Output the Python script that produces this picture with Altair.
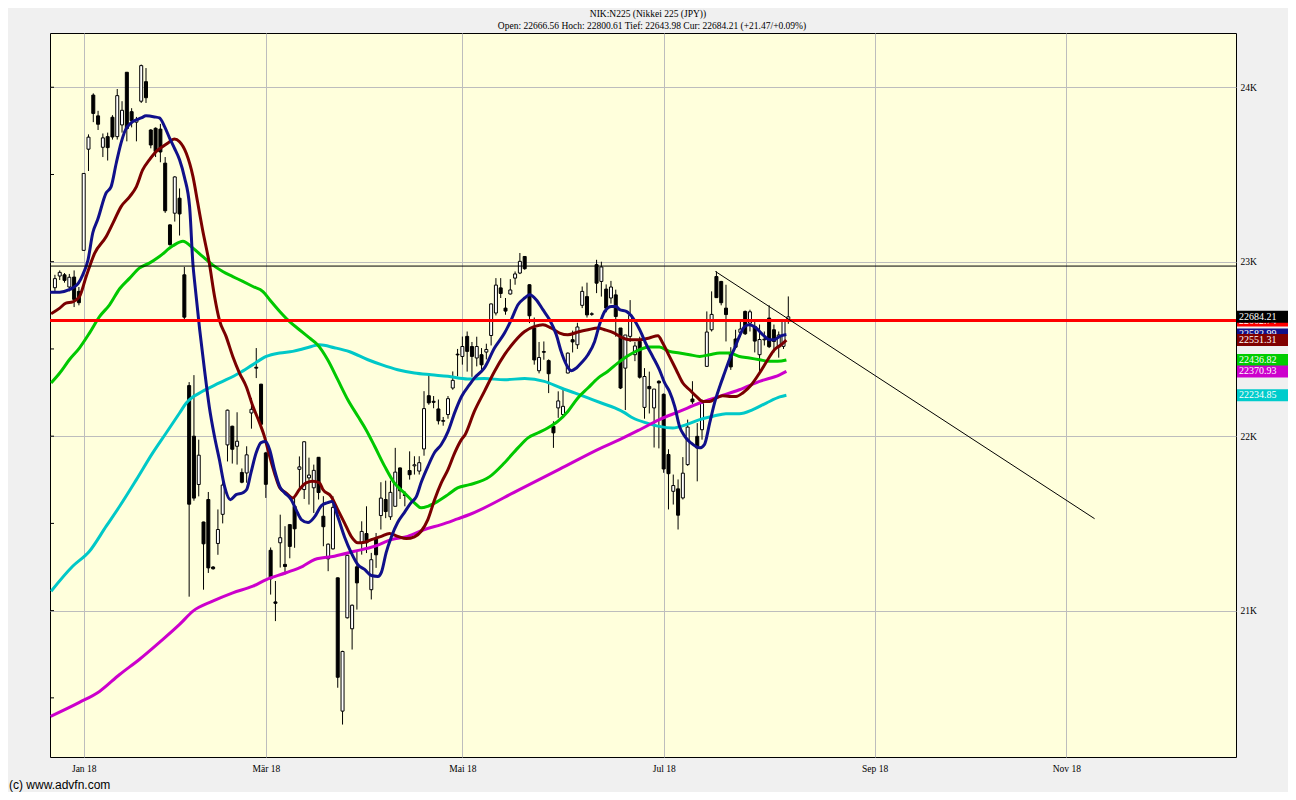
import altair as alt
import pandas as pd

# ---------------- text ----------------
title_line1 = "NIK:N225 (Nikkei 225 (JPY))"
title_line2 = "Open: 22666.56 Hoch: 22800.61 Tief: 22643.98 Cur: 22684.21 (+21.47/+0.09%)"
footer_text = "(c) www.advfn.com"

# ---------------- candles (trading-day index, 0 = first session of Jan 2018) ----------------
day_index = list(range(-6, 148))
opens = [22851, 22918, 22925, 22855, 22912, 22830,
         23065, 23645, 23955, 23836, 23656, 23717, 23828, 23717, 23784, 24086,
         23860, 23800, 23920, 24032, 23755, 23765, 23760, 23565, 23211, 23278,
         23364, 22925, 22290, 22000, 21723, 21508, 21637, 21250, 21385, 21552,
         21950, 22057, 21942, 21792, 21789, 22133, 22395, 22298, 21904, 21346,
         21050, 21389, 21265, 21493, 21598, 21810, 21694, 21761, 21704, 21879,
         21541, 21297, 21354, 21188, 20424, 20959, 20896, 21251, 21388, 21442,
         21120, 21415, 21545, 21637, 21538, 21598, 21818, 21665, 21803, 21830,
         21800, 21927, 22232, 22200, 22156, 22085, 22124, 22276, 22470, 22457,
         22572, 22514, 22448, 22467, 22482, 22577, 22706, 22850, 22734, 22815,
         22906, 22935, 23030, 22868, 22620, 22375, 22485, 22433, 22056, 22162,
         22124, 22362, 22553, 22524, 22750, 22800, 22698, 22983, 22887, 22843,
         22792, 22810, 22620, 22390, 22572, 22467, 22543, 22165, 22285, 22162,
         22315, 22240, 21895, 21684, 21698, 21646, 21837, 22213, 21999, 22037,
         22400, 22610, 22915, 22887, 22734, 22480, 22557, 22595, 22715, 22648,
         22629, 22467, 22552, 22677, 22610, 22511, 22515, 22667]
highs = [22925, 22950, 22935, 22930, 22950, 22855,
         23506, 23730, 23965, 23865, 23735, 23740, 23840, 23990, 23920, 24086,
         23880, 23830, 24130, 24110, 23760, 23770, 23790, 23600, 23215, 23490,
         23420, 22970, 22310, 22350, 21980, 21510, 21680, 21255, 21580, 21760,
         22152, 22060, 22137, 21815, 21942, 22219, 22505, 22300, 21910, 21362,
         21170, 21550, 21484, 21495, 21655, 21884, 21970, 21877, 21837, 21880,
         21656, 21385, 21656, 21190, 20770, 21320, 21035, 21341, 21512, 21598,
         21331, 21445, 21736, 21745, 21745, 21933, 21820, 21684, 21913, 21885,
         21885, 22258, 22362, 22230, 22210, 22110, 22230, 22371, 22500, 22571,
         22600, 22540, 22570, 22505, 22530, 22760, 22906, 22906, 22792, 22900,
         22944, 23050, 23030, 22870, 22680, 22540, 22543, 22440, 22085, 22257,
         22270, 22480, 22605, 22650, 22858, 22880, 22710, 23011, 23000, 22870,
         22890, 22840, 22620, 22580, 22780, 22540, 22570, 22390, 22370, 22250,
         22320, 22245, 21925, 21780, 21752, 21880, 22095, 22315, 22075, 22210,
         22715, 22830, 22945, 22890, 22868, 22510, 22610, 22660, 22720, 22725,
         22660, 22640, 22600, 22750, 22640, 22600, 22670, 22801]
lows = [22830, 22895, 22880, 22830, 22740, 22750,
        23065, 23520, 23800, 23755, 23600, 23580, 23700, 23700, 23740, 23690,
        23770, 23690, 23910, 23910, 23650, 23600, 23570, 23280, 23092, 23230,
        23150, 22660, 21080, 21630, 21655, 21120, 21216, 21235, 21320, 21500,
        21855, 21843, 21837, 21730, 21733, 22043, 22333, 22060, 21646, 21092,
        20940, 21247, 21207, 21300, 21360, 21690, 21640, 21608, 21560, 21637,
        21369, 21226, 21350, 20558, 20347, 20955, 20777, 21006, 21321, 21330,
        21064, 21245, 21465, 21530, 21520, 21598, 21640, 21598, 21751, 21780,
        21780, 21888, 22180, 22160, 22067, 22060, 22100, 22266, 22343, 22410,
        22370, 22340, 22400, 22371, 22440, 22520, 22692, 22792, 22696, 22812,
        22868, 22929, 22954, 22648, 22410, 22360, 22438, 22247, 21933, 22105,
        22105, 22360, 22480, 22500, 22734, 22680, 22690, 22820, 22800, 22710,
        22760, 22570, 22270, 22150, 22540, 22430, 22330, 22100, 22130, 21935,
        21930, 21790, 21580, 21608, 21465, 21637, 21830, 22185, 21741, 21980,
        22400, 22600, 22792, 22750, 22543, 22380, 22505, 22570, 22580, 22600,
        22480, 22353, 22520, 22505, 22480, 22450, 22500, 22644]
closes = [22903, 22939, 22893, 22911, 22784, 22765,
          23506, 23714, 23850, 23788, 23710, 23654, 23715, 23952, 23868, 23763,
          23808, 23816, 24124, 23940, 23669, 23632, 23629, 23292, 23098, 23486,
          23274, 22682, 21610, 21645, 21891, 21383, 21245, 21240, 21465, 21720,
          22149, 21925, 21971, 21736, 21893, 22154, 22390, 22068, 21724, 21182,
          21042, 21418, 21253, 21368, 21469, 21824, 21968, 21777, 21804, 21677,
          21481, 21381, 21592, 20618, 20766, 21317, 21031, 21159, 21454, 21389,
          21292, 21320, 21645, 21568, 21678, 21794, 21687, 21660, 21779, 21836,
          21848, 22158, 22191, 22194, 22088, 22090, 22215, 22320, 22466, 22514,
          22486, 22457, 22514, 22409, 22497, 22758, 22866, 22818, 22717, 22838,
          22930, 23002, 22960, 22690, 22437, 22451, 22481, 22358, 22019, 22202,
          22171, 22476, 22540, 22626, 22830, 22695, 22702, 22877, 22970, 22734,
          22855, 22686, 22276, 22580, 22693, 22517, 22338, 22342, 22272, 22270,
          22305, 21812, 21785, 21717, 21547, 21788, 22052, 22197, 21932, 22188,
          22597, 22698, 22794, 22765, 22697, 22397, 22510, 22614, 22587, 22713,
          22545, 22554, 22556, 22513, 22543, 22580, 22663, 22684]

# ---------------- moving averages ----------------
navy_idx = [-7, -5, -3, -2.3, -1.1, -0.2, 0.9, 1.9, 2.9, 4.7, 5.7, 6.8, 7.8, 8.7, 9.9, 11, 12, 13,
            14.8, 15.8, 16.9, 17.9, 18.9, 20, 21, 22.1, 22.8, 23.1, 24.2, 25.2, 26.2, 27.3, 28.3,
            29.4, 30.6, 31.8, 33.2, 34, 34.9, 36, 37, 37.9, 38.8, 39.8, 40.9, 41.9, 43.3, 44.3,
            45.4, 46.8, 48.2, 49.6, 50.9, 51.8, 53, 54.4, 55.8, 57.2, 58.6, 60, 61.4, 62.1, 63.1,
            64.2, 65.5, 66.9, 68.3, 69.4, 70.4, 71.8, 73.2, 74.6, 76, 77.4, 78.8, 80.5, 81.5, 83.6,
            85.7, 87.8, 89.2, 90.6, 92, 93, 94.4, 95.8, 97.2, 98.6, 99.6, 100.7, 101.7, 102.8,
            103.8, 105.2, 106.6, 107.6, 108.7, 110.1, 111.1, 111.8, 113.2, 114.6, 116, 117.4,
            118.7, 120.1, 121.2, 122.2, 123.3, 124.3, 125.4, 126.7, 128.5, 129.5, 130.6, 131.6,
            132.7, 133.7, 134.7, 135.8, 136.8, 137.9, 138.9, 140.3, 141.7, 143.1, 144.1, 145.2,
            146.6]
navy_val = [22825, 22825, 22840, 22850, 22877, 22925, 23010, 23166, 23240, 23395, 23429, 23566,
            23681, 23755, 23796, 23813, 23824, 23836, 23830, 23824, 23773, 23710, 23652, 23584,
            23486, 23314, 22982, 22896, 22610, 22381, 22169, 21997, 21866, 21711, 21636, 21665,
            21676, 21694, 21791, 21906, 21963, 21969, 21923, 21808, 21711, 21676, 21636, 21579,
            21522, 21505, 21539, 21602, 21619, 21625, 21539, 21424, 21333, 21264, 21236, 21201,
            21196, 21219, 21333, 21424, 21505, 21562, 21619, 21653, 21734, 21826, 21906, 21952,
            22026, 22135, 22226, 22295, 22333, 22391, 22505, 22591, 22667, 22753, 22792, 22810,
            22782, 22725, 22667, 22581, 22486, 22410, 22375, 22391, 22419, 22467, 22543, 22639,
            22715, 22744, 22744, 22725, 22715, 22677, 22610, 22524, 22457, 22381, 22305, 22257,
            22171, 22056, 21999, 21961, 21933, 21952, 22076, 22190, 22285, 22362, 22438, 22505,
            22572, 22629, 22639, 22620, 22581, 22553, 22553, 22572, 22583]

maroon_idx = [-6.8, -5, -3.7, -2.3, -0.9, 0.5, 2.3, 4.7, 6.1, 7.8, 9.6, 11, 12.3, 13.7, 15.1,
              16.5, 17.5, 18.9, 20, 21.4, 22.8, 23.8, 24.8, 26.2, 27.3, 28.3, 29.7, 31.1, 32.5,
              33.9, 35.3, 36.7, 37.7, 38.8, 39.8, 40.9, 42.2, 43.6, 45, 46.4, 47.8, 49.2, 49.9,
              51.6, 53, 54.4, 55.8, 57.2, 58.6, 60, 62.1, 63.8, 65.5, 67.3, 69, 70.4, 71.8, 73.2,
              74.6, 76, 77.4, 78.8, 79.6, 81.5, 83.6, 85.7, 87.8, 89.9, 92, 94.1, 95.8, 97.5,
              99.3, 101, 103.1, 105.2, 107.3, 108.7, 110.7, 112.3, 113.9, 116, 118, 119.8, 120.8,
              122.2, 123.6, 125, 126.4, 127.8, 129.2, 130.6, 132, 133.3, 134.7, 136.1, 137.5,
              139.3, 141, 142.7, 144.1, 145.5, 146.6]
maroon_val = [22702, 22734, 22763, 22770, 22799, 22914, 23049, 23144, 23221, 23316, 23373, 23431,
              23526, 23584, 23631, 23660, 23679, 23704, 23688, 23622, 23488, 23336, 23183, 22992,
              22801, 22667, 22572, 22457, 22362, 22285, 22171, 22076, 21999, 21884, 21789, 21704,
              21675, 21646, 21694, 21732, 21741, 21732, 21694, 21655, 21579, 21503, 21426, 21389,
              21392, 21407, 21426, 21442, 21426, 21413, 21423, 21455, 21522, 21636, 21732, 21808,
              21904, 21980, 22010, 22142, 22257, 22371, 22467, 22543, 22600, 22629, 22639, 22620,
              22591, 22581, 22597, 22610, 22620, 22610, 22591, 22565, 22553, 22553, 22563, 22576,
              22534, 22457, 22381, 22305, 22266, 22228, 22199, 22199, 22219, 22232, 22228, 22228,
              22248, 22295, 22362, 22438, 22496, 22524, 22551]

green_idx = [-6.8, -5, -3, -0.9, 1.2, 3.3, 5.4, 7.5, 9.6, 11.6, 13.7, 15.8, 18.6, 20.7, 22.8,
             24.8, 26.9, 29, 31.1, 33.2, 35.3, 37.4, 38.8, 40.9, 42.9, 45, 47.1, 48.8, 50.9, 53,
             55.1, 57.2, 58.9, 60.7, 62.8, 64.8, 66.9, 69, 70.4, 71.8, 73.9, 76, 78, 80.5, 84.7,
             87.8, 90.6, 92.7, 94.7, 96.8, 98.9, 101, 103.1, 105.2, 107.3, 109.3, 111.4, 113.9,
             116, 118, 120.1, 122.2, 124.3, 126.4, 128.5, 130.6, 132.7, 134.7, 136.8, 138.9, 141,
             143.1, 144.8, 146.6]
green_val = [22305, 22362, 22438, 22505, 22591, 22685, 22753, 22845, 22906, 22963, 22992, 23030,
             23091, 23118, 23078, 23030, 22982, 22944, 22915, 22887, 22858, 22829, 22782, 22715,
             22658, 22610, 22563, 22524, 22438, 22324, 22209, 22114, 22037, 21942, 21827, 21732,
             21675, 21618, 21589, 21598, 21627, 21665, 21704, 21722, 21768, 21848, 21933, 21990,
             22018, 22047, 22085, 22142, 22219, 22276, 22333, 22371, 22419, 22467, 22496, 22511,
             22511, 22486, 22477, 22467, 22457, 22467, 22477, 22477, 22457, 22448, 22438, 22429,
             22429, 22437]

magenta_idx = [-6.9, -0.9, 3.3, 7.5, 11.6, 15.8, 20, 22.8, 26.9, 31.1, 35.3, 38.1, 42.2, 45.7,
               48.2, 52.3, 56.5, 60.7, 64.2, 67.6, 71.1, 74.6, 78, 80.5, 90.9, 99.3, 108, 111.8,
               116, 120.1, 124.3, 128.5, 132.7, 136.8, 141, 145.2, 146.6]
magenta_val = [20394, 20474, 20537, 20634, 20720, 20818, 20921, 20997, 21054, 21102, 21140,
               21178, 21217, 21254, 21293, 21312, 21340, 21369, 21407, 21426, 21465, 21493,
               21526, 21551, 21694, 21811, 21933, 21980, 22037, 22095, 22142, 22190, 22228,
               22266, 22314, 22352, 22371]

cyan_idx = [-6.8, -2.3, 1.2, 4.7, 7.5, 11, 14.4, 17.2, 20, 21.4, 24.8, 28.3, 32.5, 35.3, 38.1,
            40.9, 43.6, 46.4, 49.2, 52.3, 55.5, 59.3, 62.1, 65.5, 69, 72.5, 76, 80.1, 83.6, 87.8,
            92, 96.1, 99.6, 102.4, 105.2, 108, 110.8, 112.8, 114.6, 117.4, 120.1, 122.9, 125.7,
            128.5, 131.3, 134, 136.8, 139.6, 142.4, 145.2, 146.6]
cyan_val = [21111, 21254, 21340, 21484, 21598, 21751, 21904, 22018, 22133, 22190, 22257, 22305,
            22362, 22410, 22457, 22477, 22486, 22505, 22524, 22507, 22484, 22438, 22410, 22381,
            22362, 22352, 22343, 22328, 22330, 22324, 22330, 22314, 22276, 22248, 22219, 22190,
            22162, 22135, 22104, 22076, 22056, 22047, 22066, 22095, 22114, 22129, 22129, 22152,
            22190, 22225, 22235]

# ---------------- levels / trend ----------------
prev_close = 22662.74
resistance_level = 22975
trend_idx = [131.8, 210.9]
trend_val = [22944, 21527]

# ---------------- axes ----------------
month_pos = [0, 38, 79, 121, 165, 205]
month_labels = ["Jan 18", "Mär 18", "Mai 18", "Jul 18", "Sep 18", "Nov 18"]
price_ticks = [21000, 22000, 23000, 24000]
minor_ticks = [20500, 21000, 21500, 22000, 22500, 23000, 23500, 24000]

# ---------------- right-hand value boxes (drawn in this order) ----------------
box_values = [22662.74, 22684.21, 22582.99, 22551.31, 22436.82, 22370.93, 22234.85]
box_colors = ["#ff0000", "#000000", "#10108a", "#800000", "#00cc00", "#cc00cc", "#00cccc"]

# =====================================================================
W, H = 1186, 724
SERIF = "Liberation Serif"
GRID = "#bdbdbd"

x_scale = alt.Scale(domain=[-7.03, 240.4], nice=False, zero=False, padding=0)
y_scale = alt.Scale(domain=[20161, 24311], nice=False, zero=False, padding=0)

month_expr = " : ".join(f"datum.value == {p} ? '{l}'" for p, l in zip(month_pos, month_labels)) + " : ''"

x_axis = alt.Axis(values=month_pos, labelExpr=month_expr, grid=True, gridColor=GRID, gridWidth=1,
                  ticks=False, domain=False, labelFont=SERIF, labelFontSize=9.5, labelColor="black",
                  labelPadding=6, labelOverlap=False, labelFlush=False, title=None)
y_axis = alt.Axis(values=price_ticks, labelExpr="format(datum.value / 1000, 'd') + 'K'",
                  orient="right", grid=True, gridColor=GRID, gridWidth=1, ticks=False, domain=False,
                  labelFont=SERIF, labelFontSize=9.5, labelColor="black", labelPadding=4,
                  labelOverlap=False, title=None)


def X(field):
    return alt.X(field, type="quantitative", scale=x_scale, axis=x_axis)


def Y(field):
    return alt.Y(field, type="quantitative", scale=y_scale, axis=y_axis)


candles = pd.DataFrame({"i": day_index, "o": opens, "h": highs, "l": lows, "c": closes})
candles["dir"] = ["up" if c >= o else "down" for o, c in zip(opens, closes)]

wicks = alt.Chart(candles).mark_rule(color="black", strokeWidth=1, clip=True).encode(
    x=X("i"), y=Y("l"), y2="h")
bodies = alt.Chart(candles).mark_bar(size=3, stroke="black", strokeWidth=1, clip=True).encode(
    x=X("i"), y=Y("o"), y2="c",
    fill=alt.Fill("dir:N", scale=alt.Scale(domain=["up", "down"], range=["#ffffff", "#000000"]),
                  legend=None))


def ma_layer(idx, vals, color):
    df = pd.DataFrame({"i": idx, "v": vals})
    return alt.Chart(df).mark_line(color=color, strokeWidth=3, interpolate="monotone",
                                   clip=True).encode(x=X("i"), y=Y("v"))


cyan_line = ma_layer(cyan_idx, cyan_val, "#00c8c8")
magenta_line = ma_layer(magenta_idx, magenta_val, "#cc00cc")
green_line = ma_layer(green_idx, green_val, "#00c800")
maroon_line = ma_layer(maroon_idx, maroon_val, "#7a0000")
navy_line = ma_layer(navy_idx, navy_val, "#10108a")

red_rule = alt.Chart(pd.DataFrame({"v": [prev_close]})).mark_rule(
    color="#ff0000", strokeWidth=3).encode(y=Y("v"))
black_rule = alt.Chart(pd.DataFrame({"v": [resistance_level]})).mark_rule(
    color="black", strokeWidth=1).encode(y=Y("v"))
trend = alt.Chart(pd.DataFrame({"i": trend_idx, "v": trend_val})).mark_line(
    color="black", strokeWidth=1, clip=True).encode(x=X("i"), y=Y("v"))

left_ticks = alt.Chart(pd.DataFrame({"v": minor_ticks})).mark_rule(
    color="black", strokeWidth=1).encode(x=alt.value(0), x2=alt.value(4), y=Y("v"))

layers = [wicks, bodies, cyan_line, magenta_line, green_line, maroon_line, navy_line,
          red_rule, black_rule, trend, left_ticks]

for v, col in zip(box_values, box_colors):
    df = pd.DataFrame({"v": [v], "t": [f"{v:.2f}"]})
    layers.append(alt.Chart(df).mark_rect(height=12, color=col).encode(
        x=alt.value(W + 1), x2=alt.value(W + 52), y=Y("v")))
    layers.append(alt.Chart(df).mark_text(align="left", baseline="middle", color="white",
                                          font=SERIF, fontSize=10).encode(
        x=alt.value(W + 3), y=Y("v"), text="t:N"))

layers.append(alt.Chart(pd.DataFrame({"t": [title_line1]})).mark_text(
    align="center", baseline="middle", font=SERIF, fontSize=9.5, color="black").encode(
    x=alt.value(598), y=alt.value(-19), text="t:N"))
layers.append(alt.Chart(pd.DataFrame({"t": [title_line2]})).mark_text(
    align="center", baseline="middle", font=SERIF, fontSize=9.5, color="black").encode(
    x=alt.value(602), y=alt.value(-7.5), text="t:N"))
layers.append(alt.Chart(pd.DataFrame({"t": [footer_text]})).mark_text(
    align="left", baseline="bottom", font="Liberation Sans", fontSize=12, color="black").encode(
    x=alt.value(-41), y=alt.value(759), text="t:N"))

chart = alt.layer(*layers).properties(
    width=W, height=H,
    autosize=alt.AutoSizeParams(type="none"),
    padding={"left": 42, "top": 25, "right": 52, "bottom": 35},
    background="#f0f0f0",
).configure_view(fill="#ffffdc", stroke="black", strokeWidth=1)

chart.save("out.html", embed_options={"renderer": "svg", "actions": False})
